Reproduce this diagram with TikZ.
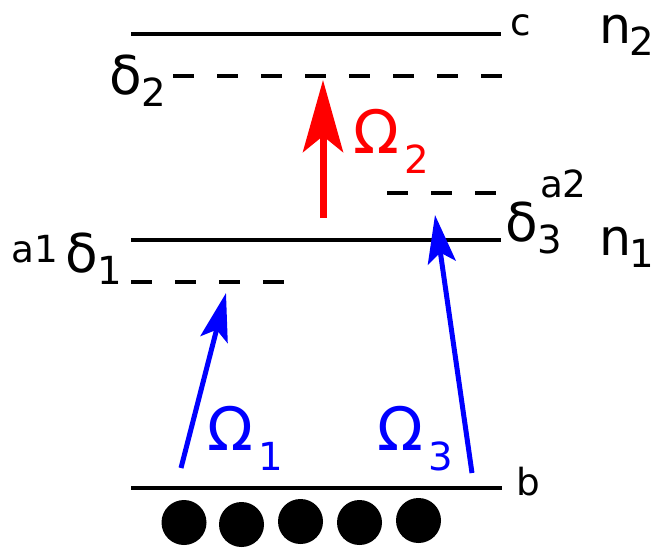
\documentclass[tikz,border=0pt]{standalone}
\usepackage{fontspec}
\setmainfont{DejaVu Sans}
\usetikzlibrary{arrows.meta}
\newcommand{\bigf}{\fontsize{40}{40}\selectfont}
\newcommand{\nf}{\fontsize{38}{38}\selectfont}
\newcommand{\omf}{\fontsize{45}{45}\selectfont}
\newcommand{\subf}{\fontsize{29}{29}\selectfont}
\newcommand{\smallf}{\fontsize{28}{28}\selectfont}
\newcommand{\lsub}[1]{\raisebox{-9pt}{\subf #1}}
\newcommand{\nsub}[1]{\hspace{-1.5pt}\raisebox{-9pt}{\subf #1}}
\newcommand{\osub}[1]{\hspace{4pt}\raisebox{-15pt}{\subf #1}}
\begin{document}
\begin{tikzpicture}[x=0.75pt,y=-0.75pt,
  lvl/.style={line width=3pt},
  virt/.style={line width=3pt, dash pattern=on 15.75pt off 17.25pt},
  lab/.style={anchor=base west, inner sep=0pt, outer sep=0pt},
  redarrow/.style={draw=red, line width=5.25pt, -{Stealth[length=54pt, width=30pt, inset=12pt]}},
  bluearrow/.style={draw=blue, line width=3.75pt, -{Stealth[length=36pt, width=21pt, inset=7.5pt]}},
  atom/.style={fill=black, draw=none, circle, minimum size=33.75pt, inner sep=0pt}]
\useasboundingbox (0,0) rectangle (653,547);
% levels
\coordinate (pA) at (131,34);   \coordinate (pB) at (501,34);
\coordinate (qA) at (173,76);   \coordinate (qB) at (502,76);
\coordinate (sA) at (387,193);  \coordinate (sB) at (497,193);
\coordinate (tA) at (131,240);  \coordinate (tB) at (501,240);
\coordinate (uA) at (131,282);  \coordinate (uB) at (286,282);
\coordinate (wA) at (131,488);  \coordinate (wB) at (502,488);
\draw[lvl] (pA) -- (pB);
\draw[virt] (qA) -- (qB);
\draw[virt] (sA) -- (sB);
\draw[lvl] (tA) -- (tB);
\draw[virt] (uA) -- (uB);
\draw[lvl] (wA) -- (wB);
% arrows
\coordinate (r0) at (323,218); \coordinate (r1) at (323,80);
\draw[redarrow] (r0) -- (r1);
\coordinate (o1a) at (181,468); \coordinate (o1b) at (226,293);
\draw[bluearrow] (o1a) -- (o1b);
\coordinate (o3a) at (472,473); \coordinate (o3b) at (435,215);
\draw[bluearrow] (o3a) -- (o3b);
% labels
\node[lab] (lc) at (510,35) {\smallf c};
\node[lab] (ln2) at (599,43) {\nf n\nsub{2}};
\node[lab] (ld2) at (109,94) {\bigf δ\lsub{2}};
\node[lab, text=red] (lO2) at (353,153) {\omf Ω\osub{2}};
\node[lab] (la2) at (540,197) {\smallf a2};
\node[lab] (ld3) at (505,241) {\bigf δ\lsub{3}};
\node[lab] (ln1) at (599,255) {\nf n\nsub{1}};
\node[lab] (la1) at (12,262) {\smallf a1};
\node[lab] (ld1) at (65,272) {\bigf δ\lsub{1}};
\node[lab, text=blue] (lO1) at (207,450) {\omf Ω\osub{1}};
\node[lab, text=blue] (lO3) at (377,450) {\omf Ω\osub{3}};
\node[lab] (lb) at (516,495) {\smallf b};
% atoms
\node[atom] (at1) at (184,522.5) {};
\node[atom] (at2) at (241.5,524.5) {};
\node[atom] (at3) at (300.5,521.5) {};
\node[atom] (at4) at (359.5,522.5) {};
\node[atom] (at5) at (418.5,520.5) {};
\end{tikzpicture}
\end{document}
